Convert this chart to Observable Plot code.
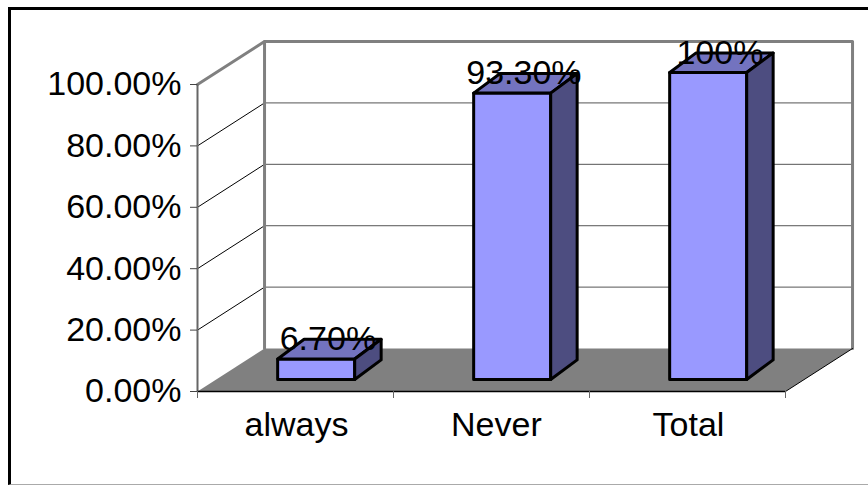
<!DOCTYPE html>
<html>
<head>
<meta charset="utf-8">
<script src="https://cdn.jsdelivr.net/npm/d3@7"></script>
<script src="https://cdn.jsdelivr.net/npm/@observablehq/plot@0.6"></script>
<style>
  html, body { margin: 0; padding: 0; background: #fff; }
  #chart { position: relative; width: 868px; height: 485px; overflow: hidden; }
  #chart svg { display: block; font-family: "Liberation Sans", Arial, sans-serif; }
  #chart::after {
    content: ""; position: absolute; left: 8px; top: 7px; right: -4px; bottom: 0;
    border-left: 3px solid #000; border-top: 3px solid #000; border-bottom: 1px solid #aaa;
    pointer-events: none;
  }
</style>
</head>
<body>
<div id="chart"></div>
<script>
// Survey shares shown as an oblique 3D column chart.
const categories = ["always", "Never", "Total"];
const shares = [0.067, 0.933, 1.0];
const shareLabels = ["6.70%", "93.30%", "100%"];
const gridValues = [0, 0.2, 0.4, 0.6, 0.8, 1];
const categoryEdges = [0, 1, 2, 3];

// Oblique projection: depth 0 is the front of the floor, depth 1 the back wall.
const depthX = 0.342;   // x units per unit of depth
const depthY = 0.14;    // y units per unit of depth
const project = (x, y, d) => ({x: x + d * depthX, y: y + d * depthY});

// Column placement inside a category, in x units and fractions of the depth.
const columnStart = 0.409, columnWidth = 0.393;
const columnFloor = 0.039;      // height of the column's foot on the front face
const columnRunX = 0.135, columnRunY = 0.064;

const poly = (key, pts) => pts.map((p) => ({key, ...p}));

const floor = poly("floor", [project(0, 0, 0), project(3, 0, 0), project(3, 0, 1), project(0, 0, 1)]);

const faces = categories.flatMap((c, i) => {
  const x0 = i + columnStart, x1 = x0 + columnWidth;
  const y0 = columnFloor, y1 = columnFloor + shares[i];
  const bx = columnRunX, by = columnRunY;
  return [
    ...poly(c + "-front", [{x: x0, y: y0}, {x: x1, y: y0}, {x: x1, y: y1}, {x: x0, y: y1}]).map((d) => ({...d, face: "front"})),
    ...poly(c + "-top", [{x: x0, y: y1}, {x: x1, y: y1}, {x: x1 + bx, y: y1 + by}, {x: x0 + bx, y: y1 + by}]).map((d) => ({...d, face: "top"})),
    ...poly(c + "-side", [{x: x1, y: y0}, {x: x1 + bx, y: y0 + by}, {x: x1 + bx, y: y1 + by}, {x: x1, y: y1}]).map((d) => ({...d, face: "side"}))
  ];
});
const faceColors = {front: "#9999ff", top: "#7373bf", side: "#4d4d80"};

const backGrid = gridValues.slice(1, -1).flatMap((v) =>
  poly("b" + v, [project(0, v, 1), project(3, v, 1)]));
const sideGrid = gridValues.slice(1, -1).flatMap((v) =>
  poly("s" + v, [project(0, v, 0), project(0, v, 1)]));
const wallOutline = poly("wall", [project(0, 1, 0), project(0, 1, 1), project(3, 1, 1), project(3, 0, 1)]);
const backCorner = poly("corner", [project(0, 0, 1), project(0, 1, 1)]);
const floorEdge = poly("edge", [project(3, 0, 0), project(3, 0, 1)]);

const labelRows = categories.map((c, i) => ({
  name: c,
  text: shareLabels[i],
  center: i + (c === "Never" ? 0.525 : 0.505),
  labelX: i + columnStart + columnWidth / 2 + columnRunX / 2,
  labelY: columnFloor + shares[i] + columnRunY / 2
}));

const plot = Plot.plot({
  width: 868,
  height: 485,
  marginLeft: 197,
  marginRight: 83,
  marginTop: 84,
  marginBottom: 94,
  x: {domain: [0, 3]},
  y: {domain: [0, 1]},
  marks: [
    Plot.line(floor, {x: "x", y: "y", curve: "linear-closed", fill: "#808080", stroke: "none"}),
    Plot.line(backGrid, {x: "x", y: "y", z: "key", stroke: "#555", strokeWidth: 1}),
    Plot.line(sideGrid, {x: "x", y: "y", z: "key", stroke: "#000", strokeWidth: 1}),
    Plot.line(backCorner, {x: "x", y: "y", stroke: "#808080", strokeWidth: 3}),
    Plot.line(wallOutline, {x: "x", y: "y", stroke: "#808080", strokeWidth: 3}),
    Plot.line(floorEdge, {x: "x", y: "y", stroke: "#000", strokeWidth: 1}),
    Plot.ruleX([0], {y1: 0, y2: 1, stroke: "#666", strokeWidth: 2}),
    Plot.ruleY([0], {x1: 0, x2: 3, stroke: "#000", strokeWidth: 1.5}),
    Plot.axisY({
      ticks: gridValues, tickFormat: ".2%", tickSize: 7, tickPadding: 9,
      fontSize: 34, stroke: "#444", fill: "#000", label: null, anchor: "left"
    }),
    Plot.axisX({
      ticks: categoryEdges, tickFormat: () => "", tickSize: 7, stroke: "#666", label: null, anchor: "bottom"
    }),
    Plot.line(faces, {
      x: "x", y: "y", z: "key", curve: "linear-closed",
      fill: (d) => faceColors[d.face], stroke: "#000", strokeWidth: 3, strokeLinejoin: "round"
    }),
    Plot.text(labelRows, {x: "labelX", y: "labelY", text: "text", fontSize: 34, fill: "#000", dx: -1.5, dy: -10, stroke: "none"}),
    Plot.text(labelRows, {x: "center", y: () => 0, text: "name", fontSize: 34, fill: "#000", dy: 34})
  ]
});
document.getElementById("chart").appendChild(plot);
</script>
</body>
</html>
